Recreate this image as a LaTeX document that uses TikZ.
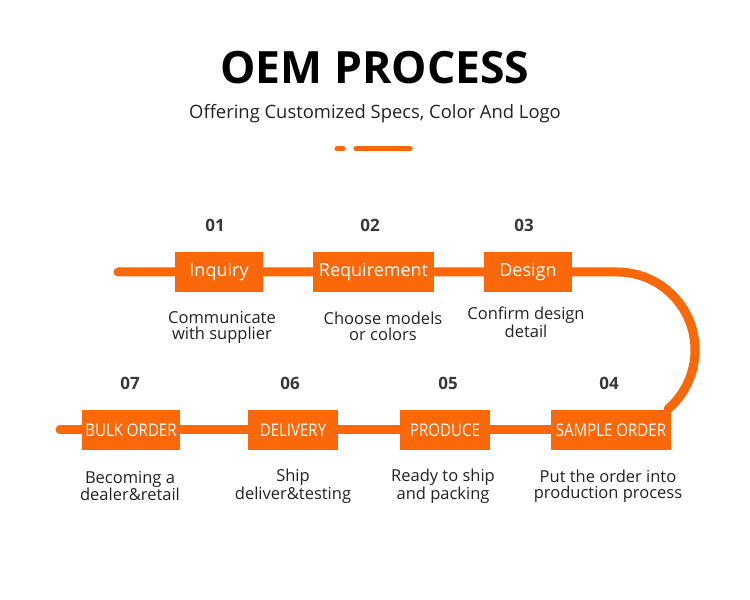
\documentclass[tikz,border=0pt]{standalone}
\usepackage{fontspec}
\setmainfont{Open Sans}
\usepackage{xcolor}
\usetikzlibrary{positioning,calc,backgrounds}
\definecolor{oem}{RGB}{250,104,10}
\definecolor{ink}{RGB}{34,34,34}
\tikzset{
  stepbox/.style={fill=oem,text=white,minimum height=40pt,inner sep=0pt,font=\fontsize{18}{20}\selectfont},
  capsbox/.style={stepbox,font=\fontsize{17.5}{20}\selectfont},
  stepnum/.style={text=ink!90,font=\fontsize{17}{20}\selectfont\bfseries},
  stepdesc/.style={text=ink,align=center,font=\fontsize{16.5}{16}\selectfont},
  track/.style={draw=oem,line width=9pt}
}
\newcommand{\narrow}[1]{\scalebox{0.86}[1]{#1}}
\begin{document}
\begin{tikzpicture}[x=1pt,y=1pt]
  \useasboundingbox (0,0) rectangle (750,600);
  \node (title) at (375,532) {\fontsize{44.5}{48}\selectfont\bfseries OEM PROCESS};
  \node[text=ink] (subtitle) at (375,486) {\fontsize{18.4}{20}\selectfont Offering Customized Specs, Color And Logo};
  \coordinate (dotA) at (337,451);
  \coordinate (dotB) at (343,451);
  \coordinate (barA) at (356,451);
  \coordinate (barB) at (410,451);
  \draw[oem,line width=5pt,line cap=round] (dotA) -- (dotB) (barA) -- (barB);

  % top row
  \node[stepbox,minimum width=88pt] (inquiry) at (219,328) {Inquiry};
  \node[stepbox,minimum width=121pt] (requirement) at (373.5,328) {Requirement};
  \node[stepbox,minimum width=88pt] (design) at (528,328) {Design};
  \node[stepnum] at (215,375) {01};
  \node[stepnum] at (370,375) {02};
  \node[stepnum] at (524,375) {03};
  \node[stepdesc] at (222,272.5) {Communicate\\with supplier};
  \node[stepdesc] at (383,273.5) {Choose models\\or colors};
  \node[stepdesc] at (526,277.5) {Confirm design\\detail};

  % bottom row
  \node[capsbox,minimum width=98pt] (bulk) at (131,170) {\narrow{BULK ORDER}};
  \node[capsbox,minimum width=90pt] (delivery) at (293,170) {\narrow{DELIVERY}};
  \node[capsbox,minimum width=90pt] (produce) at (445,170) {\narrow{PRODUCE}};
  \node[capsbox,minimum width=120pt] (sample) at (611,170) {\narrow{SAMPLE ORDER}};
  \node[stepnum] at (130,217) {07};
  \node[stepnum] at (290,217) {06};
  \node[stepnum] at (448,217) {05};
  \node[stepnum] at (609,217) {04};
  \node[stepdesc] at (130,114) {Becoming a\\dealer\&retail};
  \node[stepdesc] at (293,114) {Ship\\deliver\&testing};
  \node[stepdesc] at (443,114) {Ready to ship\\and packing};
  \node[stepdesc] at (608,114) {Put the order into\\production process};

  \coordinate (topstart) at (118,328);
  \coordinate (turn) at (617,328);
  \coordinate (botstart) at (60,170);
  \begin{scope}[on background layer]
    \draw[track,line cap=round] (topstart) -- (inquiry) -- (requirement) -- (design) -- (turn)
      arc[start angle=90,end angle=-49,radius=78pt];
    \draw[track,line cap=round] (botstart) -- (bulk) -- (delivery) -- (produce) -- (sample);
  \end{scope}
\end{tikzpicture}
\end{document}
